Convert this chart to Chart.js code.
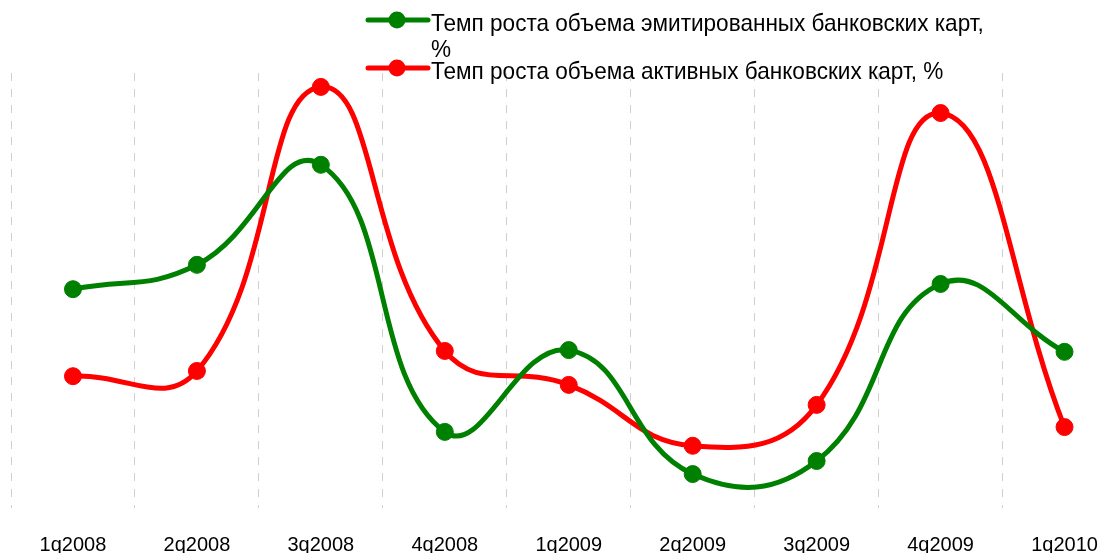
<!DOCTYPE html>
<html>
<head>
<meta charset="utf-8">
<script src="https://cdn.jsdelivr.net/npm/chart.js@4"></script>
<style>
  html, body { margin: 0; padding: 0; background: #fff; overflow: hidden; }
  #growth-chart { display: block; }
</style>
</head>
<body>
<canvas id="growth-chart" width="1136" height="553"></canvas>
<script>
const quarters = ["1q2008", "2q2008", "3q2008", "4q2008", "1q2009", "2q2009", "3q2009", "4q2009", "1q2010"];
// values (axis is hidden, relative scale 0..100)
const issuedGrowth = [50.3, 55.9, 78.9, 17.5, 36.3, 7.8, 10.8, 51.5, 35.9];
const activeGrowth = [30.3, 31.5, 96.8, 36.1, 28.3, 14.3, 23.7, 90.8, 18.6];
const seriesNames = [
    ["Темп роста объема эмитированных банковских карт,", "%"],
    ["Темп роста объема активных банковских карт, %"]
];
const seriesColors = ["#008000", "#ff0000"];

// legend drawn by hand: line + dot marker, text wraps like the original
const lineLegend = {
    id: 'lineLegend',
    afterDraw(chart) {
        const ctx = chart.ctx;
        const rows = [20, 68];
        ctx.save();
        seriesNames.forEach((lines, i) => {
            const y = rows[i];
            ctx.strokeStyle = seriesColors[i];
            ctx.lineWidth = 5;
            ctx.lineCap = 'round';
            ctx.beginPath();
            ctx.moveTo(368, y);
            ctx.lineTo(428, y);
            ctx.stroke();
            ctx.fillStyle = seriesColors[i];
            ctx.beginPath();
            ctx.arc(397, y, 8.5, 0, Math.PI * 2);
            ctx.fill();
        });
        // text is a bit condensed in the original
        ctx.fillStyle = '#000';
        ctx.font = '24px "Liberation Sans", Arial, sans-serif';
        ctx.textBaseline = 'alphabetic';
        ctx.textAlign = 'left';
        ctx.translate(431, 0);
        ctx.scale(0.94, 1);
        seriesNames.forEach((lines, i) => {
            lines.forEach((t, j) => ctx.fillText(t, 0, rows[i] + 11 + j * 26));
        });
        ctx.restore();
    }
};

const ctx = document.getElementById("growth-chart").getContext('2d');

new Chart(ctx, {
    type: 'line',
    data: {
        labels: quarters,
        datasets: [{
            label: seriesNames[0].join(' '),
            data: issuedGrowth,
            borderColor: seriesColors[0],
            backgroundColor: seriesColors[0],
            borderWidth: 5,
            pointRadius: 8.5,
            pointBorderWidth: 1,
            tension: 0.45,
        }, {
            label: seriesNames[1].join(' '),
            data: activeGrowth,
            borderColor: seriesColors[1],
            backgroundColor: seriesColors[1],
            borderWidth: 5,
            pointRadius: 8.5,
            pointBorderWidth: 1,
            tension: 0.45,
        }]
    },
    options: {
        responsive: false,
        animation: false,
        layout: {
            // x axis reserves the tick padding twice, pull the area back down
            padding: { top: 73, left: 11, right: 1, bottom: -29 }
        },
        plugins: {
            legend: { display: false },
            tooltip: { enabled: false },
        },
        scales: {
            x: {
                offset: true,
                grid: {
                    display: true,
                    offset: true,
                    drawTicks: false,
                    color: '#cfcfcf',
                    lineWidth: 1,
                },
                border: {
                    display: false,
                    dash: [8, 8],
                },
                ticks: {
                    color: '#000',
                    padding: 27,
                    maxRotation: 0,
                    autoSkip: false,
                    font: {
                        size: 20,
                        family: '"Liberation Sans", Arial, sans-serif',
                        lineHeight: 1,
                    }
                }
            },
            y: {
                display: false,
                min: 0,
                max: 100,
            }
        }
    },
    plugins: [lineLegend]
});
</script>
</body>
</html>
